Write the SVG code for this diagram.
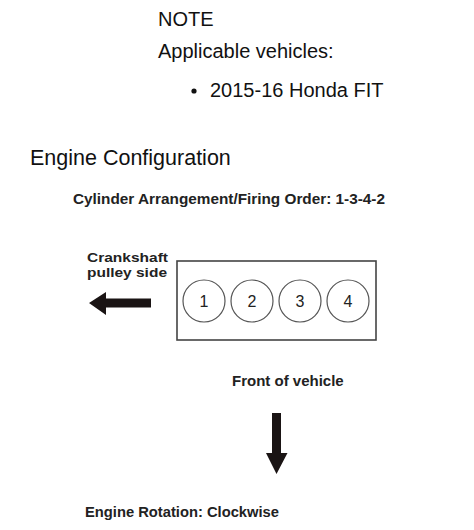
<svg xmlns="http://www.w3.org/2000/svg" width="474" height="530" viewBox="0 0 474 530">
  <style>
    .reg { font-family: "Liberation Sans", Arial, sans-serif; fill: #111; }
    .bold { font-family: "Liberation Sans", Arial, sans-serif; font-weight: bold; font-size: 15px; fill: #222; }
    .small { font-size: 13px; }
    .cyl circle { fill: #fff; stroke: #555; stroke-width: 1.2; }
    .cyl text { font-family: "Liberation Sans", Arial, sans-serif; font-size: 16px; fill: #222; text-anchor: middle; }
    .arrow { fill: #1a1414; }
  </style>
  <rect width="474" height="530" fill="#fff"/>
  <g id="note">
    <text class="reg" x="158" y="26" font-size="20">NOTE</text>
    <text class="reg" x="158" y="58" font-size="20">Applicable vehicles:</text>
    <circle cx="194" cy="91" r="2.6" fill="#111"/>
    <text class="reg" x="210" y="97" font-size="20">2015-16 Honda FIT</text>
  </g>
  <text id="title" class="reg" x="30" y="165" font-size="21.5">Engine Configuration</text>
  <text id="firing-order" class="bold" x="73" y="204" textLength="312" lengthAdjust="spacingAndGlyphs">Cylinder Arrangement/Firing Order: 1-3-4-2</text>
  <g id="crankshaft-label">
    <text class="bold small" x="87" y="262" textLength="81" lengthAdjust="spacingAndGlyphs">Crankshaft</text>
    <text class="bold small" x="87" y="277" textLength="80" lengthAdjust="spacingAndGlyphs">pulley side</text>
  </g>
  <g id="engine-block">
    <rect x="177" y="261" width="199" height="79" fill="#fff" stroke="#444" stroke-width="1.6"/>
  </g>
  <g id="cyl-1" class="cyl"><circle cx="204" cy="301" r="21"/><text x="204" y="307">1</text></g>
  <g id="cyl-2" class="cyl"><circle cx="252" cy="301" r="21"/><text x="252" y="307">2</text></g>
  <g id="cyl-3" class="cyl"><circle cx="300" cy="301" r="21"/><text x="300" y="307">3</text></g>
  <g id="cyl-4" class="cyl"><circle cx="348" cy="301" r="21"/><text x="348" y="307">4</text></g>
  <g id="front-label">
    <text class="bold" x="232" y="386">Front of vehicle</text>
  </g>
  <g id="arrows">
    <polygon class="arrow" points="89,303 106,292 106,298.5 151,298.5 151,307.5 106,307.5 106,315"/>
    <polygon class="arrow" points="272,413 281,413 281,453 287.5,453 276.5,474 266,453 272,453"/>
  </g>
  <text id="rotation" class="bold" x="85" y="517" textLength="194" lengthAdjust="spacingAndGlyphs">Engine Rotation: Clockwise</text>
</svg>
